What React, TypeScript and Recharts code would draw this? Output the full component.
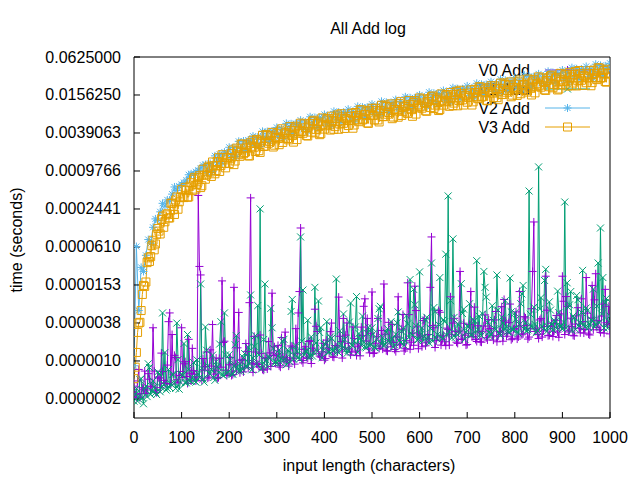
import React from 'react';
import { LineChart, Line, XAxis, YAxis } from 'recharts';

// ---- data (times in microseconds) ----
// samples at input lengths 0, 5, 10, ... 1000
const inputLength: number[] = Array.from({ length: 201 }, (_, i) => i * 5);
// extra samples in between, at 2.5, 7.5, ... 997.5
const inputLengthHalf: number[] = Array.from({ length: 200 }, (_, i) => i * 5 + 2.5);

const v0Add = [
  0.38, 0.25, 0.7, 0.29, 0.34,
  0.29, 0.6, 0.38, 3.2, 0.32,
  0.53, 0.36, 0.65, 0.42, 0.82,
  5.5, 2.5, 1.17, 0.48, 0.56,
  3.2, 0.86, 0.54, 2.1, 0.46,
  0.67, 0.46, 400, 22, 1.04,
  0.78, 0.51, 1.43, 3.6, 0.68,
  0.5, 1.05, 17.7, 1.96, 0.56,
  0.83, 0.56, 14, 0.66, 5.6,
  0.98, 0.64, 1.8, 0.74, 366,
  0.63, 1.32, 0.84, 2.46, 0.7,
  1.05, 0.71, 1.28, 11.3, 1.6,
  1.22, 0.8, 2.24, 0.92, 1.07,
  0.79, 1.65, 1.05, 3.1, 5.5,
  122, 0.89, 1.6, 1.04, 2.0,
  1.52, 6.3, 2.8, 1.14, 1.33,
  0.98, 2.04, 1.29, 3.8, 1.09,
  1.58, 9.8, 1.94, 4.5, 2.45,
  1.82, 1.19, 3.3, 1.37, 1.6,
  1.15, 2.4, 9.2, 4.5, 1.28,
  11.8, 1.28, 2.3, 1.5, 2.9,
  15.8, 1.39, 3.9, 1.6, 1.87,
  1.34, 9.9, 1.77, 5.2, 1.49,
  16.5, 1.46, 2.63, 14.6, 3.3,
  2.46, 1.6, 4.5, 1.85, 2.15,
  88, 3.2, 2.0, 6.0, 1.7,
  2.44, 1.67, 3.0, 9.9, 3.8,
  2.78, 1.81, 25, 2.09, 2.44,
  1.74, 3.6, 2.3, 6.8, 1.94,
  2.77, 1.89, 3.4, 2.22, 4.3,
  3.1, 2.04, 5.8, 2.36, 2.75,
  1.96, 4.1, 2.58, 7.6, 2.18,
  3.1, 2.12, 12, 2.48, 4.8,
  3.5, 2.28, 6.4, 152, 3.07,
  2.16, 4.5, 2.85, 21, 2.4,
  3.4, 2.33, 4.2, 2.73, 5.3,
  21, 2.5, 7.0, 2.88, 3.36,
  2.38, 4.95, 3.14, 9.2, 2.64,
  20, 2.54, 4.56, 2.97, 23,
  4.15, 2.7, 7.6, 13, 3.63,
  2.56,
];

const v0AddHalf = [
  0.28, 0.46, 0.25, 0.36, 0.66,
  0.33, 0.49, 0.37, 0.66, 0.3,
  0.51, 1.27, 0.47, 0.42, 4.0,
  0.41, 0.59, 1.08, 0.43, 0.65,
  0.52, 0.93, 0.42, 0.61, 1.51,
  0.59, 0.53, 30, 0.47, 0.68,
  1.32, 0.53, 0.79, 0.59, 1.06,
  0.52, 0.76, 1.87, 0.68, 0.61,
  1.08, 0.58, 0.85, 1.54, 0.62,
  1.01, 0.76, 1.34, 8, 0.88,
  2.34, 0.86, 0.77, 1.26, 0.68,
  1.07, 1.94, 0.78, 1.16, 0.87,
  1.68, 0.76, 1.1, 2.73, 1.0,
  0.96, 1.58, 0.85, 1.24, 12,
  0.97, 1.45, 1.09, 1.94, 0.87,
  1.37, 3.38, 1.24, 1.1, 1.82,
  1.04, 1.53, 2.78, 1.11, 1.67,
  1.32, 2.35, 1.06, 1.54, 3.82,
  1.47, 1.32, 2.17, 1.16, 1.71,
  3.28, 7, 1.97, 1.48, 2.62,
  1.25, 1.82, 4.5, 1.64, 1.47,
  2.53, 1.36, 1.99, 3.62, 1.45,
  2.28, 1.71, 3.04, 1.37, 2.0,
  5.17, 1.89, 1.69, 6, 1.49,
  2.29, 4.16, 1.66, 2.5, 14,
  3.47, 1.56, 2.28, 5.64, 2.06,
  1.92, 3.16, 1.7, 2.49, 4.52,
  1.89, 2.83, 2.12, 3.78, 1.7,
  2.58, 12, 2.34, 2.09, 3.44,
  1.92, 2.82, 5.12, 2.05, 3.07,
  2.39, 4.26, 1.92, 2.79, 6.92,
  9, 2.35, 3.86, 2.07, 3.04,
  5.72, 2.29, 3.43, 2.57, 4.58,
  2.12, 3.1, 25, 2.8, 2.51,
  4.26, 2.28, 3.34, 6.08, 2.43,
  3.77, 2.83, 5.02, 2.26, 3.3,
  8.42, 10, 2.75, 4.54, 2.43,
  3.66, 6.66, 2.66, 4.0, 3.0,
  5.46, 2.46, 15, 8.87, 3.24,
  2.98, 4.9, 2.63, 3.85, 7.0,
];

const v1Add = [
  0.22, 0.35, 0.26, 0.5, 0.2,
  0.38, 0.86, 0.28, 0.46, 0.3,
  0.64, 0.31, 5.5, 1.3, 0.35,
  0.36, 0.58, 0.43, 3.8, 0.34,
  0.58, 1.8, 0.43, 0.7, 0.45,
  0.9, 0.44, 0.59, 15.8, 0.49,
  3.3, 0.8, 0.59, 1.18, 0.47,
  0.78, 1.77, 0.58, 5.5, 0.61,
  1.2, 0.59, 0.79, 2.4, 0.66,
  0.66, 1.08, 0.79, 1.58, 10.6,
  1.06, 2.4, 7.2, 245, 0.83,
  15.8, 0.78, 1.05, 3.2, 0.88,
  0.88, 1.43, 1.05, 2.1, 0.83,
  1.38, 5.8, 1.02, 1.68, 1.08,
  88, 12.7, 1.37, 4.2, 1.14,
  1.14, 14, 1.35, 2.7, 1.07,
  1.78, 4.0, 1.32, 2.17, 1.4,
  19, 1.29, 1.73, 5.3, 1.45,
  1.4, 7.9, 1.66, 3.3, 1.31,
  2.15, 4.9, 1.59, 2.6, 1.68,
  3.2, 1.56, 2.1, 6.4, 1.76,
  1.68, 2.73, 2.0, 4.0, 1.58,
  2.53, 5.7, 1.87, 3.1, 1.98,
  3.7, 18.6, 2.44, 7.4, 2.04,
  24.6, 3.2, 2.33, 4.7, 1.84,
  34, 6.7, 2.18, 3.6, 2.31,
  4.3, 47, 393, 8.6, 82,
  2.26, 3.7, 2.68, 5.4, 2.1,
  3.4, 7.7, 2.5, 4.1, 37,
  4.9, 2.4, 25, 9.8, 2.7,
  2.56, 4.2, 3.0, 6.1, 2.4,
  3.8, 8.6, 2.8, 19.6, 3.0,
  5.5, 2.7, 3.6, 11, 3.0,
  2.86, 470, 3.4, 6.8, 2.68,
  1133, 9.6, 3.1, 27, 3.3,
  6.1, 2.96, 4.0, 12.2, 3.3,
  3.1, 315, 16.5, 7.4, 2.9,
  4.6, 10.4, 3.4, 5.6, 3.6,
  6.6, 3.2, 4.3, 13.1, 3.6,
  34, 122, 20, 8.0, 3.15,
  4.9,
];

const v1AddHalf = [
  0.28, 0.22, 0.48, 0.25, 0.35,
  0.26, 0.75, 0.32, 0.37, 0.28,
  0.59, 0.36, 0.41, 0.33, 0.7,
  0.41, 0.58, 0.35, 1.0, 0.44,
  0.57, 0.43, 2.5, 0.46, 0.52,
  0.46, 0.99, 0.52, 0.73, 0.44,
  1.41, 0.61, 0.7, 0.52, 0.93,
  0.62, 4.0, 0.56, 1.19, 0.63,
  0.98, 0.59, 1.72, 0.74, 0.86,
  0.71, 1.25, 0.76, 0.86, 0.69,
  1.62, 0.86, 1.19, 0.71, 2.09,
  0.99, 1.14, 6.5, 1.51, 0.92,
  1.14, 0.91, 1.94, 1.03, 1.43,
  0.93, 9, 1.18, 1.36, 1.02,
  1.96, 1.19, 1.35, 1.08, 2.3,
  1.32, 1.84, 8.5, 3.23, 1.4,
  1.74, 1.3, 2.29, 1.39, 1.58,
  1.34, 2.86, 1.51, 2.1, 1.26,
  3.94, 1.7, 1.97, 10, 2.6,
  1.69, 1.92, 1.54, 3.26, 1.73,
  2.55, 1.53, 4.49, 7, 2.24,
  1.75, 3.1, 1.88, 2.14, 1.71,
  3.83, 2.03, 2.81, 1.69, 4.95,
  2.25, 2.61, 13, 3.44, 2.09,
  2.5, 2.0, 4.25, 2.25, 3.13,
  1.97, 5.76, 2.49, 20, 2.15,
  3.99, 2.42, 2.75, 2.2, 4.68,
  2.58, 3.59, 16, 6.31, 2.73,
  3.3, 2.46, 4.35, 2.64, 3.0,
  2.5, 5.3, 14, 3.9, 2.34,
  7.15, 3.09, 22, 2.67, 4.71,
  2.97, 3.37, 2.7, 5.73, 3.03,
  4.38, 2.63, 7.7, 15, 3.85,
  2.97, 5.25, 3.19, 3.62, 2.9,
  6.36, 3.37, 18, 2.81, 8.23,
  3.65, 4.22, 3.15, 5.57, 3.38,
  3.94, 3.15, 6.7, 12, 4.93,
  3.03, 8.89, 3.84, 26, 3.31,
  6.0, 3.64, 4.14, 3.31, 7.04,
  3.82, 5.3, 3.18, 9.33, 4.03,
];

const v2Add = [
  0.8, 62, 6, 29, 25,
  45, 80, 70, 125, 170,
  160, 220, 300, 270, 340,
  330, 420, 545, 480, 560,
  600, 640, 700, 850, 880,
  860, 950, 1000, 1080, 1200,
  1233, 920, 1287, 954, 1695,
  1320, 1792, 1292, 1944, 1824,
  2320, 1680, 2288, 1656, 2880,
  2200, 2912, 2052, 3024, 2784,
  3480, 2490, 3354, 2403, 4140,
  3135, 4116, 2879, 4212, 3852,
  4785, 3400, 4550, 3240, 5550,
  4180, 5460, 3800, 5535, 5040,
  6235, 4400, 5850, 4140, 7050,
  5280, 6860, 4750, 6885, 6240,
  7685, 5410, 7176, 5067, 8610,
  6435, 8344, 5767, 8343, 7548,
  9280, 6520, 8632, 6084, 10320,
  7700, 9996, 6916, 10017, 9072,
  11165, 7840, 10374, 7308, 12390,
  9240, 11956, 8246, 11907, 10752,
  13195, 9260, 12246, 8622, 14610,
  10890, 14112, 9747, 14094, 12744,
  15660, 10980, 14508, 10206, 17280,
  12870, 16660, 11495, 16605, 15000,
  18415, 12920, 17082, 12024, 20370,
  15180, 19656, 13566, 19602, 17712,
  21750, 15240, 20124, 14148, 23940,
  17820, 23044, 15884, 22923, 20688,
  25375, 17760, 23426, 16452, 27810,
  20680, 26712, 18392, 26514, 23904,
  29290, 20500, 27040, 18990, 32100,
  23870, 30828, 21223, 30591, 27576,
  33785, 23640, 31174, 21888, 36990,
  27500, 35504, 24434, 35208, 31728,
  38860, 27160, 35776, 25092, 42360,
  31460, 40572, 27892, 40149, 36144,
  44225, 30880, 40638, 28476, 48030,
  35640, 45892, 31502, 45279, 40704,
  49735,
];

const v3Add = [
  0.5, 1.3, 3.8, 6, 15,
  17, 41, 43, 78, 68,
  120, 98, 188, 153, 205,
  176, 300, 200, 378, 317,
  494, 370, 483, 380, 637,
  725, 504, 759, 533, 1040,
  723, 1104, 940, 1357, 881,
  1380, 960, 1768, 1296, 1596,
  1280, 1848, 1232, 2245, 1766,
  2600, 1830, 2268, 1702, 2738,
  3000, 1992, 2838, 1922, 3588,
  2423, 3528, 2879, 3994, 2504,
  3795, 2550, 4550, 3240, 3885,
  3040, 4290, 2800, 5002, 3864,
  5590, 3872, 4725, 3496, 5546,
  6000, 3920, 5500, 3672, 6760,
  4505, 6492, 5244, 7206, 4477,
  6728, 4470, 7891, 5562, 6605,
  5120, 7172, 4648, 8247, 6330,
  9100, 6283, 7644, 5639, 8921,
  9625, 6272, 8778, 5846, 10738,
  7140, 10248, 8246, 11290, 6989,
  10465, 6945, 12246, 8622, 10227,
  7920, 11088, 7182, 12737, 9770,
  14040, 9662, 11718, 8618, 13594,
  14625, 9520, 13310, 8856, 16250,
  10795, 15504, 12483, 17101, 10592,
  15870, 10530, 18564, 13068, 15498,
  12000, 16764, 10836, 19178, 14683,
  21060, 14485, 17556, 12905, 20343,
  21875, 14208, 19822, 13162, 24102,
  15980, 22896, 18392, 25139, 15538,
  23230, 15375, 27040, 18990, 22470,
  17360, 24222, 15638, 27645, 21142,
  30290, 20803, 25179, 18483, 29099,
  31250, 20288, 28292, 18778, 34372,
  22780, 32592, 26144, 35686, 22027,
  32890, 21735, 38168, 26766, 31626,
  24400, 33968, 21882, 38601, 29458,
  42120, 28846, 34818, 25490, 40026,
  34300,
];

const v3AddHalf = [
  0.76, 2.7, 3.9, 10.8, 14.5, 34.5, 36, 64, 55, 97,
  109, 167, 125, 197, 176, 301, 238, 339, 242, 369,
  380, 537, 374, 562, 476, 774, 594, 822, 570, 842,
  841, 1165, 800, 1183, 990, 1587, 1188, 1610, 1095, 1591,
  1558, 2098, 1404, 2030, 1666, 2611, 1908, 2530, 1687, 2407,
  2323, 3093, 2048, 2932, 2384, 3706, 2687, 3536, 2342, 3320,
  3183, 4209, 2769, 3942, 3188, 4928, 3555, 4658, 3071, 4335,
  4133, 5429, 3549, 5022, 4038, 6208, 4455, 5808, 3811, 5355,
  5087, 6667, 4349, 6140, 4926, 7558, 5414, 7044, 4614, 6472,
  6137, 8028, 5226, 7366, 5899, 9050, 6489, 8453, 5543, 7783,
  7382, 9650, 6279, 8845, 7081, 10842, 7749, 10063, 6579, 9211,
  8721, 11395, 7410, 10433, 8347, 12787, 9153, 11903, 7792, 10924,
  10346, 13505, 8775, 12344, 9869, 15104, 10800, 14030, 9176, 12852,
  12170, 15897, 10335, 14548, 11637, 17818, 12744, 16560, 10834, 15178,
  14364, 18739, 12168, 17107, 13668, 20902, 14931, 19378, 12661, 17717,
  16749, 21826, 14157, 19883, 15870, 24243, 17298, 22425, 14637, 20461,
  19333, 25193, 16341, 22950, 18318, 27981, 19962, 25875, 16887, 23603,
  22297, 29048, 18837, 26449, 21106, 32230, 22986, 29785, 19432, 27152,
  25631, 33355, 21606, 30305, 24157, 36851, 26253, 33983, 22148, 30916,
  29156, 37905, 24531, 34376, 27379, 41715, 29673, 38353, 24960, 34792,
];

const seriesNames = ['V0 Add', 'V1 Add', 'V2 Add', 'V3 Add'];
const seriesKeys = ['v0', 'v1', 'v2', 'v3'];
const seriesColors = ['#9400d3', '#009e73', '#56b4e9', '#e69f00'];
const seriesMarkers = ['plus', 'cross', 'star', 'square'];

const xTicks = [0, 100, 200, 300, 400, 500, 600, 700, 800, 900, 1000];
const yTickValues = [
  2.384185791015625e-7, 9.5367431640625e-7, 3.814697265625e-6, 1.52587890625e-5,
  6.103515625e-5, 2.44140625e-4, 9.765625e-4, 3.90625e-3, 1.5625e-2, 6.25e-2,
];
const yTickLabels = [
  '0.0000002', '0.0000010', '0.0000038', '0.0000153', '0.0000610',
  '0.0002441', '0.0009766', '0.0039063', '0.0156250', '0.0625000',
];

const US = 1e-6;
const tableData: any[] = [];
inputLength.forEach((n, k) => {
  tableData.push({ n, v0: v0Add[k] * US, v1: v1Add[k] * US, v2: v2Add[k] * US, v3: v3Add[k] * US });
  if (k < inputLengthHalf.length) {
    tableData.push({
      n: inputLengthHalf[k],
      v0: v0AddHalf[k] * US,
      v1: v1AddHalf[k] * US,
      v3: v3AddHalf[k] * US,
    });
  }
});

const FONT = '"Liberation Sans", Arial, sans-serif';
const FS = 16;
const Y_DOMAIN: [number, number] = [1.19e-7, 0.0625];

function markerPath(kind: string, cx: number, cy: number): string {
  const s = 4;
  switch (kind) {
    case 'plus':
      return `M${cx - s},${cy}H${cx + s}M${cx},${cy - s}V${cy + s}`;
    case 'cross':
      return `M${cx - 3.5},${cy - 3.5}L${cx + 3.5},${cy + 3.5}M${cx - 3.5},${cy + 3.5}L${cx + 3.5},${cy - 3.5}`;
    case 'star':
      return `M${cx - s},${cy}H${cx + s}M${cx},${cy - s}V${cy + s}M${cx - 3},${cy - 3}L${cx + 3},${cy + 3}M${cx - 3},${cy + 3}L${cx + 3},${cy - 3}`;
    default:
      return `M${cx - s},${cy - s}H${cx + s}V${cy + s}H${cx - s}Z`;
  }
}

const makeDot = (kind: string, color: string, id: string) => (p: any) => {
  const { cx, cy, index, value } = p;
  if (cx == null || cy == null || value == null || Number.isNaN(cy)) return <g key={`${id}-${index}`} />;
  return (
    <path
      key={`${id}-${index}`}
      d={markerPath(kind, cx, cy)}
      stroke={color}
      strokeWidth={1}
      fill="none"
    />
  );
};

const XTick = (props: any) => {
  const { x, y, payload } = props;
  return (
    <text x={x} y={y} textAnchor="middle" dominantBaseline="central" fontSize={FS} fontFamily={FONT} fill="#000">
      {payload.value}
    </text>
  );
};

const YTick = (props: any) => {
  const { x, y, payload } = props;
  const idx = yTickValues.findIndex((v) => Math.abs(v - payload.value) / v < 1e-6);
  const label = idx >= 0 ? yTickLabels[idx] : Number(payload.value).toFixed(7);
  return (
    <text x={x} y={y} textAnchor="end" dominantBaseline="central" fontSize={FS} fontFamily={FONT} fill="#000">
      {label}
    </text>
  );
};

const LegendKey = () => (
  <g>
    {seriesNames.map((name, i) => {
      const y = 70 + i * 19;
      return (
        <g key={name}>
          <text x={530} y={y} textAnchor="end" dominantBaseline="central" fontSize={FS} fontFamily={FONT} fill="#000">
            {name}
          </text>
          <line x1={545} x2={590} y1={y} y2={y} stroke={seriesColors[i]} strokeWidth={1} />
          <path d={markerPath(seriesMarkers[i], 567.5, y)} stroke={seriesColors[i]} fill="none" />
        </g>
      );
    })}
  </g>
);

export default function App() {
  return (
    <div style={{ position: 'absolute', left: 0, top: 0, width: 640, height: 480, background: '#fff' }}>
      <LineChart width={640} height={480} data={tableData} margin={{ top: 56, right: 29, bottom: 0, left: 0 }}>
        <LegendKey />
        <XAxis
          dataKey="n"
          type="number"
          domain={[0, 1000]}
          ticks={xTicks}
          interval={0}
          height={62}
          tickSize={-6}
          tickMargin={25}
          tick={<XTick />}
          axisLine={{ stroke: '#000' }}
          tickLine={{ stroke: '#000' }}
          allowDataOverflow
        />
        <XAxis
          xAxisId="top"
          orientation="top"
          type="number"
          domain={[0, 1000]}
          ticks={xTicks}
          interval={0}
          height={1}
          tickSize={-6}
          tick={false}
          axisLine={{ stroke: '#000' }}
          tickLine={{ stroke: '#000' }}
          allowDataOverflow
        />
        <YAxis
          type="number"
          scale="log"
          domain={Y_DOMAIN}
          ticks={yTickValues}
          interval={0}
          width={134}
          tickSize={-6}
          tickMargin={19}
          tick={<YTick />}
          axisLine={{ stroke: '#000' }}
          tickLine={{ stroke: '#000' }}
          allowDataOverflow
        />
        <YAxis
          yAxisId="right"
          orientation="right"
          type="number"
          scale="log"
          domain={Y_DOMAIN}
          ticks={yTickValues}
          interval={0}
          width={1}
          tickSize={-6}
          tick={false}
          axisLine={{ stroke: '#000' }}
          tickLine={{ stroke: '#000' }}
          allowDataOverflow
        />
        {seriesKeys.map((k, i) => (
          <Line
            key={k}
            dataKey={k}
            name={seriesNames[i]}
            type="linear"
            stroke={seriesColors[i]}
            strokeWidth={1}
            connectNulls
            dot={makeDot(seriesMarkers[i], seriesColors[i], k)}
            activeDot={false}
            isAnimationActive={false}
          />
        ))}
        <text x={368} y={28} textAnchor="middle" dominantBaseline="central" fontSize={FS} fontFamily={FONT} fill="#000">
          All Add log
        </text>
        <text x={369} y={465} textAnchor="middle" dominantBaseline="central" fontSize={FS} fontFamily={FONT} fill="#000">
          input length (characters)
        </text>
        <text
          x={16}
          y={240}
          textAnchor="middle"
          dominantBaseline="central"
          fontSize={FS}
          fontFamily={FONT}
          fill="#000"
          transform="rotate(-90 16 240)"
        >
          time (seconds)
        </text>
      </LineChart>
    </div>
  );
}
